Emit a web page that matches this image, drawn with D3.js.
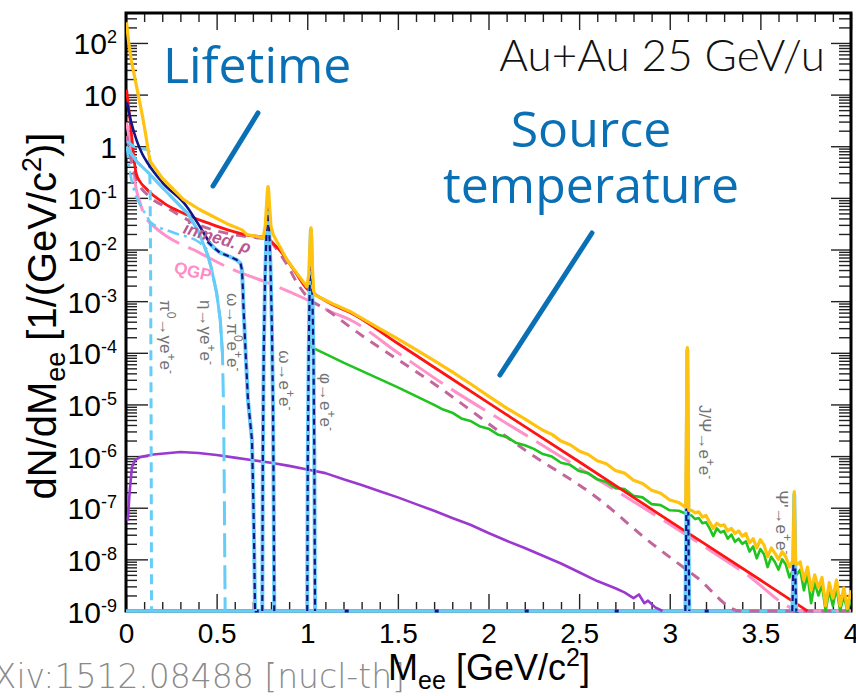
<!DOCTYPE html>
<html>
<head>
<meta charset="utf-8">
<script src="https://cdn.jsdelivr.net/npm/d3@7"></script>
<style>
  body { margin: 0; background: #fff; }
  svg { display: block; }
</style>
</head>
<body>
<svg id="chart" width="856" height="696"></svg>
<script>
// Dielectron invariant-mass spectrum, Au+Au 25 GeV/u.
// Every series is a list of [M_ee (GeV/c^2), log10(dN/dM_ee)].

// total yield (sum of all sources)
const totalSum = [
  [0.003, 2.4], [0.015, 2.0], [0.03, 1.65], [0.05, 1.3], [0.07, 0.95], [0.09, 0.6], [0.11, 0.2],
  [0.125, -0.15], [0.135, -0.3], [0.2, -0.62], [0.316, -1.03], [0.408, -1.23], [0.557, -1.5],
  [0.64, -1.62], [0.667, -1.71], [0.757, -1.77], [0.768, -1.55], [0.776, -1.1], [0.781, -0.82],
  [0.784, -0.78], [0.787, -0.85], [0.792, -1.15], [0.8, -1.55], [0.812, -1.71], [0.888, -2.2],
  [0.998, -2.72], [1.008, -2.5], [1.014, -2.0], [1.018, -1.65], [1.021, -1.58], [1.024, -1.75],
  [1.028, -2.3], [1.035, -2.8], [1.043, -2.88], [1.14, -3.05], [1.236, -3.2], [1.3, -3.33],
  [1.4, -3.53], [1.5, -3.73], [1.6, -3.94], [1.7, -4.15], [1.8, -4.37], [1.9, -4.6], [2.0, -4.84],
  [2.1, -5.07], [2.2, -5.28], [2.3, -5.5], [2.35, -5.58], [2.4, -5.71], [2.45, -5.78], [2.5, -5.9],
  [2.55, -5.97], [2.6, -6.09], [2.65, -6.15], [2.7, -6.28], [2.75, -6.33], [2.8, -6.47],
  [2.85, -6.53], [2.9, -6.66], [2.95, -6.72], [3.0, -6.85], [3.05, -6.9], [3.088, -6.99],
  [3.093, -5.0], [3.097, -3.9], [3.1, -5.0], [3.105, -7.05], [3.12, -7.05], [3.14, -7.1],
  [3.16, -7.08], [3.18, -7.18], [3.2, -7.15], [3.22, -7.28], [3.24, -7.4], [3.26, -7.3],
  [3.28, -7.35], [3.3, -7.33], [3.32, -7.45], [3.34, -7.4], [3.36, -7.5], [3.38, -7.45],
  [3.4, -7.55], [3.42, -7.5], [3.44, -7.68], [3.46, -7.6], [3.48, -7.78], [3.5, -7.62],
  [3.52, -7.72], [3.54, -7.95], [3.56, -7.78], [3.58, -7.88], [3.6, -8.0], [3.62, -7.85],
  [3.64, -7.95], [3.66, -8.15], [3.68, -8.02], [3.684, -7.3], [3.687, -6.69], [3.69, -7.3],
  [3.694, -8.08], [3.7, -8.1], [3.72, -8.05], [3.74, -8.4], [3.76, -8.15], [3.78, -8.6],
  [3.8, -8.3], [3.82, -8.55], [3.84, -8.35], [3.86, -8.9], [3.88, -8.45], [3.9, -8.75],
  [3.92, -8.4], [3.94, -8.9], [3.96, -8.55], [3.98, -8.95], [4.0, -8.6]
];

// thermal radiation from the fireball
const fireball = [
  [0.003, 1.1], [0.022, 0.52], [0.039, -0.07], [0.055, -0.51], [0.08, -0.7], [0.105, -0.8],
  [0.15, -0.95], [0.193, -1.06], [0.226, -1.14], [0.287, -1.25], [0.37, -1.38], [0.463, -1.5],
  [0.59, -1.65], [0.667, -1.72], [0.74, -1.75], [0.778, -1.76], [0.806, -1.86], [0.85, -2.02],
  [0.888, -2.2], [0.94, -2.47], [0.998, -2.76], [1.01, -2.8], [1.03, -2.84], [1.08, -2.95],
  [1.14, -3.07], [1.236, -3.22], [1.5, -3.82], [2.0, -4.97], [2.5, -6.11], [3.0, -7.26],
  [3.5, -8.4], [3.76, -9.0]
];

// quark-gluon plasma
const qgp = [
  [0.003, 0.46], [0.022, 0.07], [0.04, -0.4], [0.05, -0.7], [0.077, -1.09], [0.116, -1.42],
  [0.132, -1.48], [0.226, -1.75], [0.37, -2.0], [0.59, -2.39], [0.778, -2.64], [0.96, -2.91],
  [1.14, -3.22], [1.236, -3.36], [1.5, -4.0], [1.732, -4.56], [2.2, -5.58], [2.615, -6.48],
  [2.946, -7.2], [3.4, -8.23], [3.74, -9.0], [4.0, -9.0]
];

// in-medium rho
const inmedRho = [
  [0.005, 0.2], [0.03, -0.3], [0.06, -0.65], [0.132, -0.98], [0.226, -1.19], [0.337, -1.42],
  [0.48, -1.62], [0.63, -1.73], [0.72, -1.77], [0.778, -1.79], [0.833, -2.0], [0.888, -2.29],
  [0.943, -2.64], [0.998, -2.91], [1.11, -3.17], [1.236, -3.5], [1.732, -4.68], [2.2, -5.88],
  [2.615, -6.85], [2.875, -7.62], [3.15, -8.35], [3.39, -9.0], [4.0, -9.0]
];

// open charm
const charm = [
  [1.015, -3.7], [1.016, -3.88], [1.1, -4.02], [1.2, -4.19], [1.3, -4.35], [1.4, -4.51],
  [1.5, -4.67], [1.6, -4.84], [1.7, -5.01], [1.75, -5.1], [1.8, -5.16], [1.85, -5.27],
  [1.9, -5.32], [1.95, -5.42], [2.0, -5.47], [2.05, -5.58], [2.1, -5.63], [2.15, -5.74],
  [2.2, -5.79], [2.25, -5.86], [2.3, -5.96], [2.35, -6.01], [2.4, -6.13], [2.45, -6.17],
  [2.5, -6.29], [2.55, -6.33], [2.6, -6.45], [2.65, -6.5], [2.7, -6.62], [2.75, -6.64],
  [2.8, -6.77], [2.85, -6.8], [2.9, -6.93], [2.95, -6.95], [3.0, -7.05], [3.05, -7.06],
  [3.1, -7.13], [3.12, -7.15], [3.14, -7.22], [3.16, -7.2], [3.18, -7.3], [3.2, -7.28],
  [3.22, -7.4], [3.24, -7.55], [3.26, -7.4], [3.28, -7.48], [3.3, -7.45], [3.32, -7.6],
  [3.34, -7.52], [3.36, -7.66], [3.38, -7.6], [3.4, -7.7], [3.42, -7.65], [3.44, -7.85],
  [3.46, -7.75], [3.48, -7.98], [3.5, -7.8], [3.52, -7.9], [3.54, -8.15], [3.56, -7.95],
  [3.58, -8.05], [3.6, -8.2], [3.62, -8.0], [3.64, -8.1], [3.66, -8.35], [3.68, -8.2],
  [3.7, -8.3], [3.72, -8.2], [3.74, -8.6], [3.76, -8.3], [3.78, -8.85], [3.8, -8.45],
  [3.82, -8.7], [3.84, -8.5], [3.86, -9.0], [3.88, -8.6], [3.9, -8.9], [3.92, -8.55],
  [3.94, -9.0], [3.96, -8.7], [3.98, -9.0], [4.0, -8.8]
];

// Drell-Yan
const drellYan = [
  [0.01, -7.25], [0.02, -6.7], [0.033, -6.21], [0.05, -6.08], [0.077, -6.02], [0.15, -5.97],
  [0.3, -5.92], [0.4, -5.94], [0.5, -5.98], [0.6, -6.03], [0.7, -6.08], [0.8, -6.13],
  [0.9, -6.19], [1.0, -6.26], [1.1, -6.33], [1.2, -6.45], [1.3, -6.56], [1.4, -6.68],
  [1.5, -6.8], [1.6, -6.93], [1.7, -7.06], [1.8, -7.2], [1.9, -7.33], [2.0, -7.49],
  [2.1, -7.64], [2.2, -7.78], [2.3, -7.93], [2.4, -8.08], [2.5, -8.25], [2.6, -8.42],
  [2.7, -8.56], [2.75, -8.64], [2.8, -8.75], [2.83, -8.68], [2.86, -8.85], [2.88, -8.8],
  [2.92, -8.93], [2.96, -9.0]
];

// hadronic cocktail
const cocktailSum = [
  [0.005, 0.85], [0.03, 0.45], [0.06, 0.1], [0.09, -0.15], [0.12, -0.33], [0.2, -0.7],
  [0.336, -1.17], [0.408, -1.56], [0.463, -1.87], [0.49, -1.98]
];
const pi0Dalitz = [
  [0.005, 0.1], [0.04, 0.0], [0.08, -0.04], [0.118, -0.07], [0.128, -0.1], [0.133, -0.8],
  [0.136, -2.5], [0.139, -6.0], [0.141, -9.0]
];
const etaDalitz = [
  [0.005, -0.02], [0.06, -0.3], [0.12, -0.5], [0.2, -0.8], [0.34, -1.3], [0.4, -1.65],
  [0.43, -1.92], [0.45, -2.1], [0.47, -2.35], [0.5, -2.84], [0.52, -3.36], [0.532, -4.0],
  [0.538, -5.0], [0.542, -6.5], [0.545, -8.0], [0.547, -9.0]
];
const directGamma = [
  [0.005, 0.0], [0.02, -0.45], [0.045, -0.85], [0.08, -1.15], [0.116, -1.36], [0.132, -1.46],
  [0.26, -1.67], [0.408, -1.87], [0.447, -2.0]
];
const omegaDalitz = [
  [0.45, -1.85], [0.49, -1.98], [0.519, -2.06], [0.574, -2.14], [0.61, -2.2], [0.632, -2.27],
  [0.64, -2.4], [0.644, -2.7], [0.648, -3.1], [0.66, -4.0], [0.673, -4.91], [0.695, -5.69],
  [0.701, -6.6], [0.706, -7.5], [0.712, -9.0]
];
const omegaPeak = [
  [0.752, -9.0], [0.755, -6.0], [0.76, -4.0], [0.767, -2.6], [0.775, -1.7], [0.781, -1.25],
  [0.784, -1.2], [0.789, -1.5], [0.797, -2.3], [0.805, -3.5], [0.811, -5.0], [0.815, -7.0],
  [0.818, -9.0]
];
const phiPeak = [
  [1.0, -9.0], [1.003, -6.0], [1.008, -4.0], [1.013, -2.8], [1.017, -2.0], [1.02, -1.62],
  [1.023, -2.0], [1.028, -2.8], [1.034, -4.0], [1.039, -6.0], [1.043, -9.0]
];
const jpsiPeak = [
  [3.086, -9.0], [3.09, -7.8], [3.094, -6.0], [3.097, -3.95], [3.1, -6.0], [3.104, -7.8],
  [3.108, -9.0]
];
const psi2sPeak = [
  [3.676, -9.0], [3.68, -8.5], [3.684, -7.5], [3.687, -6.75], [3.69, -7.5], [3.694, -8.5],
  [3.698, -9.0]
];

// axes
const xTicks = [0, 0.5, 1, 1.5, 2, 2.5, 3, 3.5, 4];
const yDecades = [-9, -8, -7, -6, -5, -4, -3, -2, -1, 0, 1, 2];
const yTopLog = 2.58;

// decay-channel labels: text pieces, M_ee and log10 position where the text starts
const decayLabels = [
  { parts: [["π"], ["0", "sup"], ["→γe"], ["+", "sup"], ["e"], ["-", "sup"]], m: 0.186, v: -2.98 },
  { parts: [["η→γe"], ["+", "sup"], ["e"], ["-", "sup"]], m: 0.406, v: -2.98 },
  { parts: [["ω→π"], ["0", "sup"], ["e"], ["+", "sup"], ["e"], ["-", "sup"]], m: 0.555, v: -2.84 },
  { parts: [["ω→e"], ["+", "sup"], ["e"], ["-", "sup"]], m: 0.842, v: -3.95 },
  { parts: [["φ→e"], ["+", "sup"], ["e"], ["-", "sup"]], m: 1.068, v: -4.39 },
  { parts: [["J/Ψ→e"], ["+", "sup"], ["e"], ["-", "sup"]], m: 3.159, v: -5.01 },
  { parts: [["Ψ'→e"], ["+", "sup"], ["e"], ["-", "sup"]], m: 3.584, v: -6.66 }
];

// ---------------------------------------------------------------------------
const plot = { left: 126, right: 851, top: 13, bottom: 611 };
const x = d3.scaleLinear().domain([0, 4]).range([plot.left, plot.right]);
const y = d3.scaleLog().domain([1e-9, Math.pow(10, yTopLog)]).range([plot.bottom, plot.top]);
const yv = lg => y(Math.max(1e-9, Math.pow(10, lg)));

const svg = d3.select("#chart");
const SANS = "'Liberation Sans', Arial, Helvetica, sans-serif";

svg.append("defs").append("clipPath").attr("id", "plotClip")
  .append("rect")
  .attr("x", plot.left).attr("y", plot.top)
  .attr("width", plot.right - plot.left).attr("height", plot.bottom - plot.top + 2);

// tick marks on all four sides, pointing inward
const xMinor = d3.range(0, 41).map(i => i / 10).filter(v => Math.abs(v * 2 - Math.round(v * 2)) > 1e-6);
const yMinor = [];
yDecades.forEach(k => { for (let j = 2; j <= 9; j++) { const v = j * Math.pow(10, k); if (v <= Math.pow(10, yTopLog)) yMinor.push(v); } });
const yMajor = yDecades.map(k => Math.pow(10, k));

function tickGroup(axis, tx, ty) {
  svg.append("g").attr("transform", `translate(${tx},${ty})`).call(axis)
    .call(g => g.select(".domain").remove())
    .selectAll("line").attr("stroke", "#222").attr("stroke-width", 1.4);
}
tickGroup(d3.axisBottom(x).tickValues(xMinor).tickSize(-9).tickFormat(""), 0, plot.bottom);
tickGroup(d3.axisBottom(x).tickValues(xTicks).tickSize(-17).tickFormat(""), 0, plot.bottom);
tickGroup(d3.axisTop(x).tickValues(xMinor).tickSize(-9).tickFormat(""), 0, plot.top);
tickGroup(d3.axisTop(x).tickValues(xTicks).tickSize(-17).tickFormat(""), 0, plot.top);
tickGroup(d3.axisLeft(y).tickValues(yMinor).tickSize(-11).tickFormat(""), plot.left, 0);
tickGroup(d3.axisLeft(y).tickValues(yMajor).tickSize(-22).tickFormat(""), plot.left, 0);
tickGroup(d3.axisRight(y).tickValues(yMinor).tickSize(-12).tickFormat(""), plot.right, 0);
tickGroup(d3.axisRight(y).tickValues(yMajor).tickSize(-20).tickFormat(""), plot.right, 0);

// frame
svg.append("rect")
  .attr("x", plot.left).attr("y", plot.top)
  .attr("width", plot.right - plot.left).attr("height", plot.bottom - plot.top)
  .attr("fill", "none").attr("stroke", "#000").attr("stroke-width", 3);

// x tick labels
const xLab = svg.append("g").attr("transform", `translate(0,${plot.bottom})`)
  .call(d3.axisBottom(x).tickValues(xTicks).tickSize(0).tickPadding(12).tickFormat(d3.format("")))
  .call(g => g.select(".domain").remove());
xLab.attr("font-family", SANS).attr("font-size", 28);
xLab.selectAll("text").attr("fill", "#000");

// y tick labels (powers of ten)
const yLab = svg.append("g").attr("transform", `translate(${plot.left},0)`)
  .call(d3.axisLeft(y).tickValues(yMajor).tickSize(0).tickFormat(""))
  .call(g => g.select(".domain").remove());
yLab.selectAll(".tick").each(function (d) {
  const k = Math.round(Math.log10(d));
  const t = d3.select(this).append("text")
    .attr("x", -9).attr("y", 11).attr("text-anchor", "end")
    .attr("font-family", SANS).attr("font-size", 30).attr("fill", "#000");
  if (k === 0) t.text("1");
  else if (k === 1) t.text("10");
  else {
    t.append("tspan").text("10");
    t.append("tspan").attr("font-size", 18).attr("dy", -11).text(String(k));
  }
});

// axis titles
const yTitle = svg.append("text")
  .attr("transform", "translate(56,316) rotate(-90)")
  .attr("text-anchor", "middle").attr("font-family", SANS).attr("font-size", 40).attr("fill", "#000");
yTitle.append("tspan").text("dN/dM");
yTitle.append("tspan").attr("font-size", 27).attr("dy", 9).text("ee");
yTitle.append("tspan").attr("dy", -9).text(" [1/(GeV/c");
yTitle.append("tspan").attr("font-size", 27).attr("dy", -15).text("2");
yTitle.append("tspan").attr("dy", 15).text(")]");
{
  const len = yTitle.node().getComputedTextLength();
  const s = 367 / len;
  yTitle.attr("font-size", 40 * s);
  yTitle.selectAll("tspan").each(function () {
    const el = d3.select(this);
    if (el.attr("font-size")) el.attr("font-size", 27 * s);
  });
}

// source reference, partly outside the canvas
svg.append("text")
  .attr("x", 405).attr("y", 688).attr("text-anchor", "end")
  .attr("font-family", "'DejaVu Sans', Lato, sans-serif").attr("font-weight", 200)
  .attr("font-size", 33).attr("fill", "#8a8a8a")
  .text("arXiv:1512.08488 [nucl-th]");

const xTitle = svg.append("text")
  .attr("x", 489).attr("y", 680).attr("text-anchor", "middle")
  .attr("font-family", SANS).attr("font-size", 36).attr("fill", "#000");
xTitle.append("tspan").text("M");
xTitle.append("tspan").attr("font-size", 25).attr("dy", 9).text("ee");
xTitle.append("tspan").attr("dy", -9).text(" [GeV/c");
xTitle.append("tspan").attr("font-size", 25).attr("dy", -14).text("2");
xTitle.append("tspan").attr("dy", 14).text("]");

// ---------------------------------------------------------------------------
// curves
const curves = svg.append("g").attr("clip-path", "url(#plotClip)").attr("fill", "none")
  .attr("stroke-linejoin", "round");
const smooth = d3.line().x(d => x(d[0])).y(d => yv(d[1])).curve(d3.curveMonotoneX);
const sharp = d3.line().x(d => x(d[0])).y(d => yv(d[1]));

const LIGHT = "#66ccf8", NAVY = "#14148a";

function draw(data, gen, color, width, dash) {
  const p = curves.append("path").datum(data).attr("d", gen)
    .attr("stroke", color).attr("stroke-width", width);
  if (dash) p.attr("stroke-dasharray", dash);
  return p;
}

// cocktail contributions clipped at the lower edge run along the axis
curves.append("line")
  .attr("x1", x(0)).attr("x2", x(4)).attr("y1", y(1e-9)).attr("y2", y(1e-9))
  .attr("stroke", LIGHT).attr("stroke-width", 3.5);
curves.append("line")
  .attr("x1", x(0.71)).attr("x2", x(4)).attr("y1", y(1e-9)).attr("y2", y(1e-9))
  .attr("stroke", NAVY).attr("stroke-width", 3).attr("stroke-dasharray", "4 86");

draw(qgp, smooth, "#ff92c9", 3, "40 10");
draw(inmedRho, smooth, "#c2669c", 3, "10 8");
draw(drellYan, sharp, "#9a38cf", 2.6);
draw(charm, sharp, "#1fc41f", 2.6);
draw(fireball, smooth, "#ff1414", 2.8);

draw(directGamma, smooth, LIGHT, 2.6, "12 5 3 5");
draw(pi0Dalitz, sharp, LIGHT, 3, "10 6");
draw(etaDalitz, sharp, LIGHT, 3, "24 8");
draw(etaDalitz.filter(d => d[1] >= -4.0), sharp, LIGHT, 3);
draw(cocktailSum, smooth, NAVY, 2.6);
[omegaDalitz, omegaPeak, phiPeak, jpsiPeak, psi2sPeak].forEach(s => {
  draw(s, sharp, LIGHT, 4);
  draw(s, sharp, NAVY, 2.2, "6 4");
});

draw(totalSum, sharp, "#ffc20e", 3.2);

// ---------------------------------------------------------------------------
// labels inside the frame
svg.append("text")
  .attr("x", 825).attr("y", 71).attr("text-anchor", "end")
  .attr("font-family", "Lato, 'Open Sans', sans-serif").attr("font-weight", 300)
  .attr("font-size", 44).attr("fill", "#111")
  .text("Au+Au 25 GeV/u");

const BLUE = "#0a70b6";
const BIG = { family: "'Open Sans', sans-serif", size: 50 };
svg.append("text").attr("x", 163).attr("y", 83)
  .attr("font-family", BIG.family).attr("font-size", BIG.size).attr("fill", BLUE)
  .text("Lifetime");
svg.append("text").attr("x", 591).attr("y", 147).attr("text-anchor", "middle")
  .attr("font-family", BIG.family).attr("font-size", BIG.size).attr("fill", BLUE)
  .text("Source");
svg.append("text").attr("x", 591).attr("y", 203).attr("text-anchor", "middle")
  .attr("font-family", BIG.family).attr("font-size", BIG.size).attr("fill", BLUE)
  .text("temperature");

// pointers to the regions of the spectrum
const pointers = [
  [[0.728, 0.644], [0.48, -0.77]],
  [[2.571, -1.68], [2.063, -4.43]]
];
pointers.forEach(p => {
  svg.append("line")
    .attr("x1", x(p[0][0])).attr("y1", yv(p[0][1]))
    .attr("x2", x(p[1][0])).attr("y2", yv(p[1][1]))
    .attr("stroke", BLUE).attr("stroke-width", 5).attr("stroke-linecap", "round");
});

svg.append("text")
  .attr("transform", `translate(${x(0.31)},${yv(-1.68)}) rotate(17)`)
  .attr("font-family", SANS).attr("font-style", "italic").attr("font-weight", "bold")
  .attr("font-size", 17).attr("fill", "#b8588f")
  .text("inmed. ρ");
svg.append("text")
  .attr("transform", `translate(${x(0.26)},${yv(-2.45)}) rotate(13)`)
  .attr("font-family", SANS).attr("font-weight", "bold")
  .attr("font-size", 17).attr("fill", "#ff8cc6")
  .text("QGP");

decayLabels.forEach(l => {
  const t = svg.append("text")
    .attr("transform", `translate(${x(l.m)},${yv(l.v)}) rotate(90)`)
    .attr("font-family", SANS).attr("font-size", 17).attr("fill", "#747474");
  l.parts.forEach(([s, kind]) => {
    const sp = t.append("tspan").text(s);
    if (kind === "sup") sp.attr("font-size", 12).attr("baseline-shift", "super");
  });
});
</script>
</body>
</html>
